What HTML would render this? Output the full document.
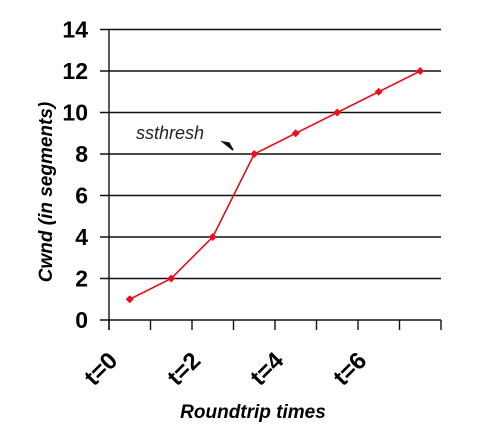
<!DOCTYPE html>
<html><head><meta charset="utf-8"><style>
html,body{margin:0;padding:0;background:#fff;}
svg{display:block;font-family:"Liberation Sans",Arial,sans-serif;}
</style></head><body>
<svg id="chart" width="490" height="432" viewBox="0 0 490 432">
<g id="grid"></g>
<g id="yticks"></g>
<g id="xticks"></g>
<g id="series"></g>
<text transform="translate(52,192) rotate(-90)" text-anchor="middle" font-size="19" font-weight="bold" font-style="italic">Cwnd (in segments)</text>
<text x="253" y="418" text-anchor="middle" font-size="19" font-weight="bold" font-style="italic">Roundtrip times</text>
<text x="136" y="139" font-size="18" font-style="italic" fill="#222">ssthresh</text>
<path d="M223,142 L233,150 L229,143 Z" fill="#111" stroke="#111" stroke-width="1.5"/>
</svg>
<script>
const yTicks=[0,2,4,6,8,10,12,14];
const xLabels=["t=0","t=2","t=4","t=6"];
const xLabelIdx=[0,2,4,6];
const cwnd=[1,2,4,8,9,10,11,12];
const nSlots=8;
const X0=109,X1=441,Y0=320,Y1=29.5,YMAX=14;
const ns="http://www.w3.org/2000/svg";
function y(v){return Y0-(v/YMAX)*(Y0-Y1);}
function xEdge(i){return X0+i*(X1-X0)/nSlots;}
function xMid(i){return xEdge(i+0.5);}
function mk(tag,attrs,parent){const e=document.createElementNS(ns,tag);for(const k in attrs)e.setAttribute(k,attrs[k]);parent.appendChild(e);return e;}
const grid=document.getElementById('grid'),yt=document.getElementById('yticks'),xt=document.getElementById('xticks'),se=document.getElementById('series');
yTicks.forEach(v=>{
 const l=mk('line',{x1:100,x2:X1,y1:y(v),y2:y(v),stroke:'#111','stroke-width':1.6},grid);
 
 
 const t=mk('text',{x:88,y:y(v)+8,'text-anchor':'end','font-size':23,'font-weight':'bold'},yt);
 t.textContent=v;
 
 
});
const ax=mk('line',{x1:X0,x2:X0,y1:Y1,y2:330,stroke:'#111','stroke-width':1.4},grid);


for(let i=0;i<=nSlots;i++){
 const tk=mk('line',{x1:xEdge(i),x2:xEdge(i),y1:Y0,y2:330,stroke:'#111','stroke-width':1.4},xt);
 
 
}
xLabels.forEach((s,k)=>{
 const px=xEdge(xLabelIdx[k])+10,py=362;
 const t=mk('text',{x:px,y:py,'text-anchor':'end','font-size':24,'font-weight':'bold',transform:`rotate(-45 ${px} ${py})`},xt);
 t.textContent=s;
 
 
});
const pts=cwnd.map((v,i)=>xMid(i)+','+y(v)).join(' ');
const pl=mk('polyline',{points:pts,fill:'none',stroke:'#e8101a','stroke-width':1.6},se);


cwnd.forEach((v,i)=>{
 const cx=xMid(i),cy=y(v);
 const p=mk('path',{d:`M${cx-4},${cy} L${cx},${cy-4} L${cx+4},${cy} L${cx},${cy+4} Z`,fill:'#e8101a'},se);
 
 
});
</script>
</body></html>
